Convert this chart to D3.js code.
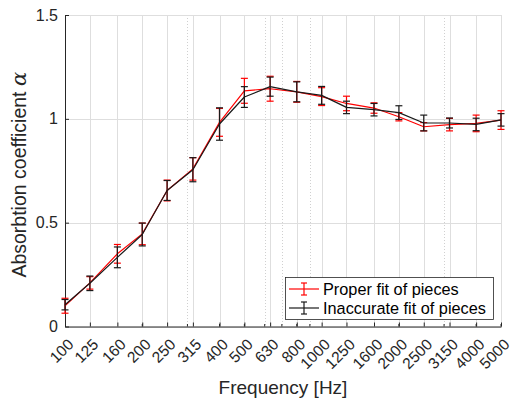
<!DOCTYPE html>
<html>
<head>
<meta charset="utf-8">
<script src="https://cdn.jsdelivr.net/npm/d3@7"></script>
<style>
	body { margin: 0; background: #fff; }
	svg { display: block; font-family: "Liberation Sans", Helvetica, Arial, sans-serif; }
	.grid line { stroke: #dedede; stroke-width: 1; }
	.minor line { stroke: #d0d0d0; stroke-width: 1; stroke-dasharray: 1,2; }
</style>
</head>
<body>
<svg width="512" height="405"></svg>
<script>
var freqs = [100, 125, 160, 200, 250, 315, 400, 500, 630, 800, 1000, 1250, 1600, 2000, 2500, 3150, 4000, 5000];
var tickLabels = ["100", "125", "160", "200", "250", "315", "400", "500", "630", "800", "1000", "1250", "1600", "2000", "2500", "3150", "4000", "5000"];
var minorTicks = [200, 300, 400, 500, 600, 700, 800, 900, 2000, 3000, 4000, 5000];
var yTicks = [0, 0.5, 1, 1.5];

var proper = [0.100, 0.21, 0.35, 0.446, 0.655, 0.759, 0.983, 1.135, 1.145, 1.13, 1.107, 1.074, 1.052, 1.01, 0.962, 0.972, 0.978, 0.994];
var properErr = [0.036, 0.03, 0.045, 0.052, 0.05, 0.054, 0.067, 0.06, 0.06, 0.05, 0.043, 0.035, 0.025, 0.02, 0.02, 0.03, 0.04, 0.045];
var inaccurate = [0.105, 0.208, 0.333, 0.443, 0.655, 0.755, 0.975, 1.105, 1.155, 1.13, 1.113, 1.055, 1.044, 1.03, 0.98, 0.98, 0.973, 0.995];
var inaccurateErr = [0.025, 0.035, 0.05, 0.055, 0.048, 0.058, 0.078, 0.05, 0.046, 0.048, 0.043, 0.03, 0.03, 0.033, 0.038, 0.024, 0.03, 0.03];

var seriesNames = ["Proper fit of pieces", "Inaccurate fit of pieces"];
var seriesColors = ["#ff0000", "#1a1a1a"];

var margin = { top: 15, right: 11, bottom: 78.5, left: 65 },
	width = 512 - margin.left - margin.right,
	height = 405 - margin.top - margin.bottom;

var xScale = d3.scaleLog()
	.domain([100, 5000])
	.range([0, width]);

var yScale = d3.scaleLinear()
	.domain([0, 1.5])
	.range([height, 0]);

var svg = d3.select("svg")
	.append("g").attr("transform", "translate(" + margin.left + "," + margin.top + ")");

// minor grid (dotted)
svg.append("g").attr("class", "minor")
	.selectAll("line").data(minorTicks).enter().append("line")
	.attr("x1", function(d) { return Math.round(xScale(d)) + 0.5; })
	.attr("x2", function(d) { return Math.round(xScale(d)) + 0.5; })
	.attr("y1", 0).attr("y2", height);

// major grid
var grid = svg.append("g").attr("class", "grid");
grid.selectAll(".gx").data(freqs).enter().append("line")
	.attr("class", "gx")
	.attr("x1", function(d) { return Math.round(xScale(d)) + 0.5; })
	.attr("x2", function(d) { return Math.round(xScale(d)) + 0.5; })
	.attr("y1", 0).attr("y2", height);
grid.selectAll(".gy").data(yTicks).enter().append("line")
	.attr("class", "gy")
	.attr("x1", 0).attr("x2", width)
	.attr("y1", function(d) { return Math.round(yScale(d)) + 0.5; })
	.attr("y2", function(d) { return Math.round(yScale(d)) + 0.5; });

// axes
var xAxis = d3.axisBottom(xScale)
	.tickValues(freqs)
	.tickFormat(function(d, i) { return tickLabels[i]; })
	.tickSizeInner(-4)
	.tickSizeOuter(0);

var gx = svg.append("g")
	.attr("class", "x axis")
	.attr("transform", "translate(0," + height + ")")
	.call(xAxis);
gx.select(".domain").attr("stroke", "#262626");
gx.selectAll(".tick line").attr("stroke", "#262626");
gx.selectAll(".tick text")
	.attr("fill", "#262626")
	.style("font-size", "15.5px")
	.attr("text-anchor", "end")
	.attr("dy", 0)
	.attr("y", 0)
	.attr("transform", "translate(9,19) rotate(-45)");

// minor ticks on the x axis
gx.selectAll(".mt").data(minorTicks).enter().append("line")
	.attr("class", "mt")
	.attr("x1", function(d) { return xScale(d); })
	.attr("x2", function(d) { return xScale(d); })
	.attr("y1", 0).attr("y2", -2.5)
	.attr("stroke", "#262626");

var yAxis = d3.axisLeft(yScale)
	.tickValues(yTicks)
	.tickFormat(function(d) { return d; })
	.tickSizeInner(-4)
	.tickSizeOuter(0);

var gy = svg.append("g")
	.attr("class", "y axis")
	.call(yAxis);
gy.select(".domain").attr("stroke", "#262626");
gy.selectAll(".tick line").attr("stroke", "#262626");
gy.selectAll(".tick text")
	.attr("fill", "#262626")
	.attr("x", -7)
	.style("font-size", "16px");

// axis labels
svg.append("text")
	.attr("x", width / 2)
	.attr("y", height + 67)
	.attr("text-anchor", "middle")
	.attr("fill", "#262626")
	.style("font-size", "19px")
	.text("Frequency [Hz]");

var ylab = svg.append("text")
	.attr("transform", "translate(-39," + (height / 2 + 4) + ") rotate(-90)")
	.attr("text-anchor", "middle")
	.attr("fill", "#262626")
	.style("font-size", "19.5px");
ylab.append("tspan").text("Absorbtion coefficient ");
ylab.append("tspan")
	.style("font-family", "'DejaVu Serif', 'Liberation Serif', serif")
	.style("font-style", "italic")
	.style("font-size", "21px")
	.text("α");

// data series
var series = [
	{ name: seriesNames[0], color: seriesColors[0], values: proper, errs: properErr },
	{ name: seriesNames[1], color: seriesColors[1], values: inaccurate, errs: inaccurateErr }
];

var line = d3.line()
	.x(function(d) { return xScale(d.f); })
	.y(function(d) { return yScale(d.v); });

var capW = 3.5;

series.forEach(function(s) {
	var pts = freqs.map(function(f, i) { return { f: f, v: s.values[i], e: s.errs[i] }; });
	var g = svg.append("g");

	g.append("path")
		.datum(pts)
		.attr("fill", "none")
		.attr("stroke", s.color)
		.attr("stroke-width", 1.2)
		.attr("stroke-linejoin", "round")
		.attr("d", line);

	var eb = g.selectAll(".eb").data(pts).enter().append("g").attr("class", "eb")
		.attr("stroke", s.color)
		.attr("stroke-width", 1.2);
	eb.append("line")
		.attr("x1", function(d) { return xScale(d.f); })
		.attr("x2", function(d) { return xScale(d.f); })
		.attr("y1", function(d) { return yScale(d.v - d.e); })
		.attr("y2", function(d) { return yScale(d.v + d.e); });
	eb.append("line")
		.attr("x1", function(d) { return xScale(d.f) - capW; })
		.attr("x2", function(d) { return xScale(d.f) + capW; })
		.attr("y1", function(d) { return yScale(d.v - d.e); })
		.attr("y2", function(d) { return yScale(d.v - d.e); });
	eb.append("line")
		.attr("x1", function(d) { return xScale(d.f) - capW; })
		.attr("x2", function(d) { return xScale(d.f) + capW; })
		.attr("y1", function(d) { return yScale(d.v + d.e); })
		.attr("y2", function(d) { return yScale(d.v + d.e); });
});

// legend
var legend = svg.append("g")
	.attr("transform", "translate(" + (285 - margin.left) + "," + (277 - margin.top) + ")");

legend.append("rect")
	.attr("x", 0.5).attr("y", 0.5)
	.attr("width", 208).attr("height", 42)
	.attr("fill", "#fff")
	.attr("stroke", "#262626")
	.attr("stroke-width", 0.8);

series.forEach(function(s, i) {
	var row = legend.append("g")
		.attr("transform", "translate(0," + (12 + i * 19) + ")");
	row.append("line")
		.attr("x1", 4).attr("x2", 34).attr("y1", 0).attr("y2", 0)
		.attr("stroke", s.color).attr("stroke-width", 1.2);
	row.append("line")
		.attr("x1", 19).attr("x2", 19).attr("y1", -6).attr("y2", 6)
		.attr("stroke", s.color).attr("stroke-width", 1.2);
	row.append("line")
		.attr("x1", 16).attr("x2", 22).attr("y1", -6).attr("y2", -6)
		.attr("stroke", s.color).attr("stroke-width", 1.2);
	row.append("line")
		.attr("x1", 16).attr("x2", 22).attr("y1", 6).attr("y2", 6)
		.attr("stroke", s.color).attr("stroke-width", 1.2);
	row.append("text")
		.attr("x", 38)
		.attr("y", 0)
		.attr("dy", "0.35em")
		.attr("fill", "#000")
		.style("font-size", "16.3px")
		.text(s.name);
});
</script>
</body>
</html>
